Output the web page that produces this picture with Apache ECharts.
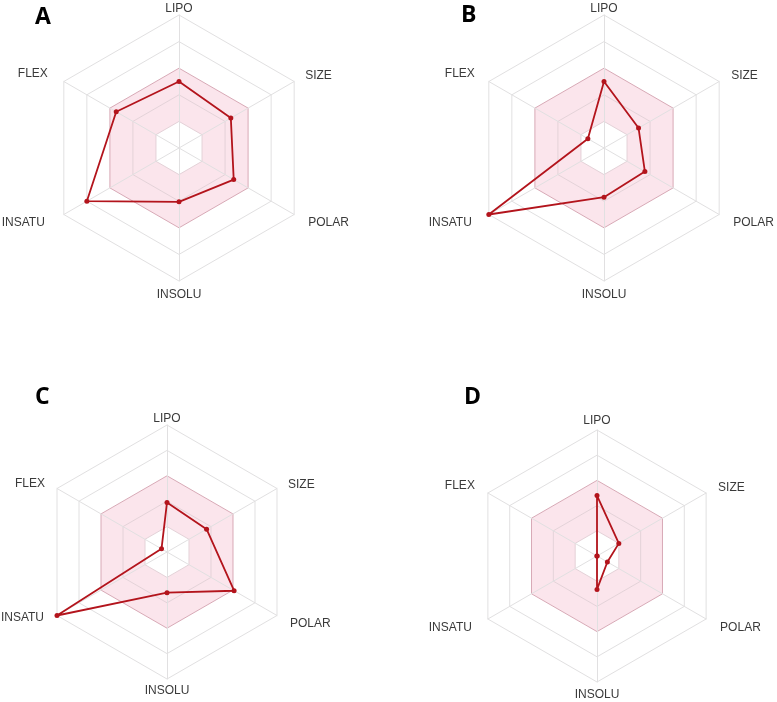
<!DOCTYPE html>
<html><head><meta charset="utf-8">
<script src="https://cdn.jsdelivr.net/npm/echarts@6/dist/echarts.min.js"></script>
<style>html,body{margin:0;padding:0;background:#fff}#c{width:777px;height:702px}</style>
</head><body><div id="c"></div>
<script>
// Axis names, listed counterclockwise starting at the top
const axisNames = ['LIPO', 'FLEX', 'INSATU', 'INSOLU', 'POLAR', 'SIZE'];
const panelLabels = ['A', 'B', 'C', 'D'];
// Values (fraction of axis range) in the same order as axisNames
const valuesA = [0.50, 0.545, 0.80, 0.405, 0.475, 0.45];
const valuesB = [0.50, 0.14, 1.00, 0.37, 0.355, 0.30];
const valuesC = [0.39, 0.05, 1.00, 0.32, 0.61, 0.36];
const valuesD = [0.48, 0.00, 0.00, 0.265, 0.095, 0.20];
const allValues = [valuesA, valuesB, valuesC, valuesD];

// Panel layout and label padding [top, right, bottom, left] per axis name
const layout = [
  {center: [179, 148], radius: 133, label: [35, 6],
   pad: {LIPO: [0,0,0,0], INSOLU: [8,0,0,0], SIZE: [0,0,12,11], POLAR: [16,0,0,14], INSATU: [16,19,0,0], FLEX: [0,16,16,0]}},
  {center: [604, 148], radius: 133, label: [461, 4],
   pad: {LIPO: [0,0,0,0], INSOLU: [8,0,0,0], SIZE: [0,0,12,12], POLAR: [16,0,0,14], INSATU: [16,17,0,0], FLEX: [0,14,16,0]}},
  {center: [167, 552], radius: 127, label: [35, 386],
   pad: {LIPO: [0,0,0,0], INSOLU: [6,0,0,0], SIZE: [0,0,8,11], POLAR: [16,0,0,13], INSATU: [4,13,0,0], FLEX: [0,12,10,0]}},
  {center: [597, 556], radius: 126, label: [464, 386],
   pad: {LIPO: [0,0,3,0], INSOLU: [7,0,0,0], SIZE: [0,0,11,12], POLAR: [17,0,0,14], INSATU: [17,16,0,0], FLEX: [0,13,15,0]}}
];

const gray = '#e1e0e1';
const pinkLine = '#d8a9b6';
const pinkInner = '#e4d2d8';
const pinkFill = '#fbe5ec';
const red = '#b3141c';

const radars = layout.map(l => {
  const rich = {};
  axisNames.forEach(n => {
    rich[n] = {color: '#3a3a3a', fontSize: 12, fontFamily: 'Liberation Sans, Arial, sans-serif', padding: l.pad[n]};
  });
  return {
    center: l.center,
    radius: l.radius,
    shape: 'polygon',
    splitNumber: 5,
    startAngle: 90,
    indicator: axisNames.map(n => ({name: n, min: 0, max: 1})),
    axisName: {
      color: '#3a3a3a', fontSize: 12, fontFamily: 'Liberation Sans, Arial, sans-serif',
      formatter: name => '{' + name + '|' + name + '}',
      rich: rich
    },
    nameGap: 0,
    axisLine: {lineStyle: {color: gray, width: 1}},
    splitLine: {lineStyle: {color: [gray, pinkInner, pinkInner, pinkLine, gray, gray], width: 1}},
    splitArea: {show: true, areaStyle: {color: ['#ffffff', pinkFill, pinkFill, '#ffffff', '#ffffff', '#ffffff']}},
    axisTick: {show: false},
    axisLabel: {show: false}
  };
});

const series = allValues.map((vals, i) => ({
  type: 'radar',
  radarIndex: i,
  symbol: 'circle',
  symbolSize: 5,
  lineStyle: {color: red, width: 1.8},
  itemStyle: {color: red},
  silent: true,
  animation: false,
  data: [{value: vals}]
}));

const graphics = layout.map((l, i) => ({
  type: 'text',
  left: l.label[0],
  top: l.label[1],
  style: {text: panelLabels[i], fontSize: 23, fontWeight: 'bold', fontFamily: 'Open Sans, Liberation Sans, sans-serif', fill: '#000'}
}));

const chart = echarts.init(document.getElementById('c'), null, {renderer: 'canvas'});
chart.setOption({
  backgroundColor: '#ffffff',
  animation: false,
  radar: radars,
  series: series,
  graphic: graphics
});
</script></body></html>
